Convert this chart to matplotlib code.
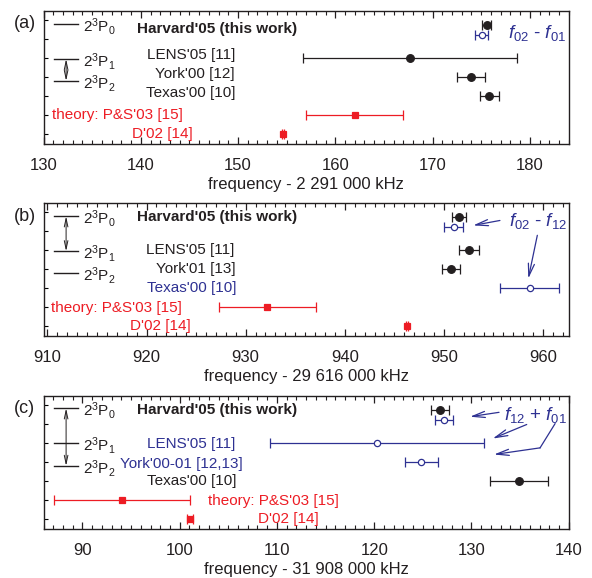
import matplotlib
matplotlib.use('Agg')
import matplotlib.pyplot as plt
from matplotlib.ticker import MultipleLocator

plt.rcParams['font.family'] = ['Liberation Sans', 'DejaVu Sans']
plt.rcParams['mathtext.fontset'] = 'custom'
plt.rcParams['mathtext.rm'] = 'Liberation Sans'
plt.rcParams['mathtext.it'] = 'Liberation Sans:italic'

BLACK = '#231f20'
BLUE = '#2e3192'
RED = '#ed1c24'

# --- data (kHz offsets) ---
# order: Harvard filled, Harvard open, LENS, York, Texas, theory P&S, D'02
a_values = [175.55, 175.05, 167.7, 173.95, 175.85, 162.0, 154.6]
a_errors = [0.5, 0.65, 11.0, 1.4, 1.0, 5.0, 0.1]
a_kinds = ['filled', 'open', 'filled', 'filled', 'filled', 'theory', 'theory']
a_labels = ["LENS'05 [11]", "York'00 [12]", "Texas'00 [10]",
            "theory: P&S'03 [15]", "D'02 [14]"]

b_values = [951.5, 951.0, 952.5, 950.7, 958.65, 932.2, 946.3]
b_errors = [0.7, 0.95, 1.0, 0.9, 2.95, 4.9, 0.1]
b_kinds = ['filled', 'open', 'filled', 'filled', 'open', 'theory', 'theory']
b_labels = ["LENS'05 [11]", "York'01 [13]", "Texas'00 [10]",
            "theory: P&S'03 [15]", "D'02 [14]"]

c_values = [126.75, 127.15, 120.3, 124.85, 134.9, 94.07, 101.04]
c_errors = [0.95, 0.9, 11.0, 1.7, 3.0, 7.0, 0.3]
c_kinds = ['filled', 'open', 'open', 'open', 'filled', 'theory', 'theory']
c_labels = ["LENS'05 [11]", "York'00-01 [12,13]", "Texas'00 [10]",
            "theory: P&S'03 [15]", "D'02 [14]"]

rows = [5.78, 5.25, 4, 3, 2, 1, 0]
xlims = [(130, 184), (909.6, 962.6), (86, 140)]
xlabels = ['frequency - 2 291 000 kHz', 'frequency - 29 616 000 kHz',
           'frequency - 31 908 000 kHz']

styles = {
    'filled': dict(fmt='o', color=BLACK, mfc=BLACK, mec=BLACK, ms=5.5),
    'open': dict(fmt='o', color=BLUE, mfc='white', mec=BLUE, ms=4.5),
    'theory': dict(fmt='s', color=RED, mfc=RED, mec=RED, ms=4.5),
}

fig = plt.figure(figsize=(5.92, 5.78), dpi=100)
bottoms = [0.7509, 0.4187, 0.0848]
axes = [fig.add_axes([0.0735, b, 0.8872, 0.2301]) for b in bottoms]


def draw_points(ax, values, errors, kinds):
    for v, e, k, y in zip(values, errors, kinds, rows):
        st = styles[k]
        ax.errorbar(v, y, xerr=e, capsize=3.5, elinewidth=0.9, capthick=0.9,
                    mew=0.9, zorder=3, **st)


def levels(ax, ys, arrow):
    for i, y in enumerate(ys):
        ax.plot([0.02, 0.066], [y, y], color=BLACK, lw=1.0,
                transform=ax.get_yaxis_transform(), clip_on=False)
        ax.text(0.076, y - 0.12, r'$\mathregular{2^3P_%d}$' % i, fontsize=11,
                color=BLACK, va='center', ha='left',
                transform=ax.get_yaxis_transform())
    y0, y1 = ys[arrow[0]], ys[arrow[1]]
    ax.annotate('', xy=(0.043, y1), xytext=(0.043, y0),
                xycoords=ax.get_yaxis_transform(),
                textcoords=ax.get_yaxis_transform(),
                arrowprops=dict(arrowstyle='<->,head_length=0.6,head_width=0.13',
                                color=BLACK, lw=0.7, shrinkA=0, shrinkB=0))


def labels(ax, texts, xs, ys, colors, harvard_y):
    tr = ax.get_yaxis_transform()
    ax.text(0.483, harvard_y, "Harvard'05 (this work)", fontsize=11,
            fontweight='bold', color=BLACK, ha='right', va='center', transform=tr)
    for t, x, y, c in zip(texts, xs, ys, colors):
        ax.text(x, y, t, fontsize=11, color=c, ha='right', va='center',
                transform=tr)


def blue_arrow(ax, start, end):
    ax.annotate('', xy=end, xytext=start,
                xycoords=('axes fraction', 'data'),
                textcoords=('axes fraction', 'data'),
                arrowprops=dict(arrowstyle='->,head_length=0.9,head_width=0.22',
                                color=BLUE, lw=0.9, shrinkA=0, shrinkB=0))


for ax, lim, xl in zip(axes, xlims, xlabels):
    ax.set_xlim(*lim)
    ax.set_ylim(-0.5, 6.5)
    ax.xaxis.set_major_locator(MultipleLocator(10))
    ax.xaxis.set_minor_locator(MultipleLocator(1))
    ax.yaxis.set_major_locator(MultipleLocator(1))
    ax.tick_params(axis='x', which='both', direction='in', top=True,
                   labelsize=12, pad=10, colors=BLACK)
    ax.tick_params(axis='x', which='major', length=5, width=0.9)
    ax.tick_params(axis='x', which='minor', length=3, width=0.8)
    ax.tick_params(axis='y', which='major', direction='in', length=3,
                   width=0.8, labelleft=False)
    ax.set_xlabel(xl, fontsize=12, labelpad=3, color=BLACK)
    for s in ax.spines.values():
        s.set_linewidth(1.0)
        s.set_color(BLACK)

ax_a, ax_b, ax_c = axes

# (a)
draw_points(ax_a, a_values, a_errors, a_kinds)
levels(ax_a, [5.82, 3.97, 2.82], (1, 2))
labels(ax_a, a_labels, [0.3646, 0.3646, 0.3646, 0.2656, 0.2847],
       [4.2, 3.2, 2.2, 1.0, 0.0], [BLACK, BLACK, BLACK, RED, RED], 5.55)
ax_a.text(0.94, 5.33, r'$\mathit{f_{02}}$ - $\mathit{f_{01}}$', fontsize=13.5,
          color=BLUE, ha='center', va='center',
          transform=ax_a.get_yaxis_transform())

# (b)
draw_points(ax_b, b_values, b_errors, b_kinds)
levels(ax_b, [5.8, 3.96, 2.79], (0, 1))
labels(ax_b, b_labels, [0.3627, 0.3665, 0.3665, 0.2637, 0.2808],
       [4.0, 3.0, 2.0, 0.95, 0.05], [BLACK, BLACK, BLUE, RED, RED], 5.75)
ax_b.text(0.9415, 5.53, r'$\mathit{f_{02}}$ - $\mathit{f_{12}}$', fontsize=13.5,
          color=BLUE, ha='center', va='center',
          transform=ax_b.get_yaxis_transform())
blue_arrow(ax_b, (0.869, 5.58), (0.818, 5.32))
blue_arrow(ax_b, (0.9402, 4.8), (0.923, 2.52))

# (c)
draw_points(ax_c, c_values, c_errors, c_kinds)
levels(ax_c, [5.85, 4.0, 2.82], (0, 2))
labels(ax_c, c_labels, [0.3646, 0.3799, 0.3679, 0.5626, 0.5245],
       [3.96, 2.91, 2.04, 0.98, 0.0], [BLUE, BLUE, BLACK, RED, RED], 5.74)
ax_c.text(0.9358, 5.5, r'$\mathit{f_{12}}$ + $\mathit{f_{01}}$', fontsize=13.5,
          color=BLUE, ha='center', va='center',
          transform=ax_c.get_yaxis_transform())
blue_arrow(ax_c, (0.8673, 5.64), (0.812, 5.41))
blue_arrow(ax_c, (0.92, 5.0), (0.8553, 4.26))
ax_c.plot([0.9739, 0.9454], [5.04, 3.77], color=BLUE, lw=0.9,
          transform=ax_c.get_yaxis_transform())
blue_arrow(ax_c, (0.9454, 3.77), (0.8576, 3.42))

for ax, letter, y in zip(axes, ['(a)', '(b)', '(c)'], [0.960, 0.625, 0.294]):
    fig.text(0.042, y, letter, fontsize=13, color=BLACK, ha='center',
             va='center')

fig.savefig('out.png', dpi=100)
